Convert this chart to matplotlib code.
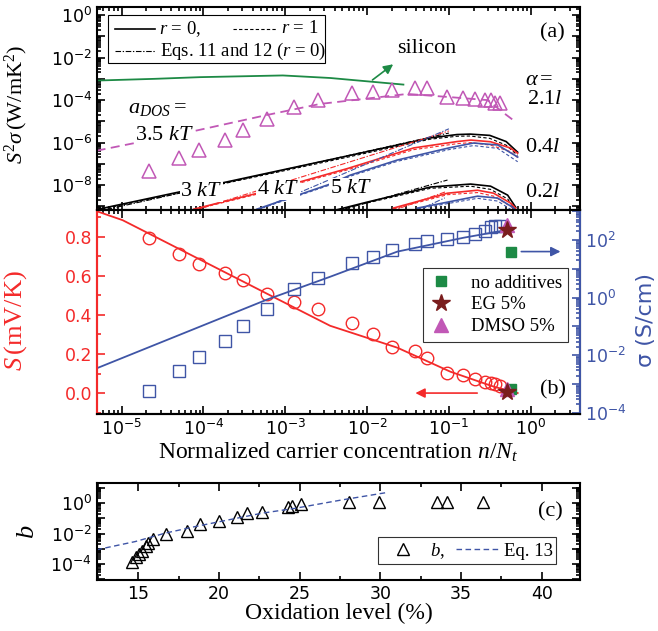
import numpy as np
import matplotlib
matplotlib.use('Agg')
import matplotlib.pyplot as plt
from matplotlib.ticker import LogLocator, FuncFormatter, MultipleLocator, NullFormatter
from matplotlib.lines import Line2D
from matplotlib.patches import Rectangle

plt.rcParams['font.family'] = 'DejaVu Sans'
plt.rcParams['mathtext.fontset'] = 'custom'
plt.rcParams['mathtext.rm'] = 'Liberation Serif'
plt.rcParams['mathtext.it'] = 'Liberation Serif:italic'
plt.rcParams['mathtext.bf'] = 'Liberation Serif:bold'

SERIF = 'Liberation Serif'
RED = '#f42a2a'
BLUE = '#3f55a6'
GREEN = '#1d8a45'
MAGENTA = '#c158b6'
DARKRED = '#7a1d1d'

# ---- measured points, shared x (normalized carrier concentration n/Nt)
n_exp = [2.14e-5, 5.0e-5, 8.8e-5, 1.83e-4, 3.04e-4, 5.98e-4, 1.28e-3, 2.52e-3,
         6.6e-3, 1.19e-2, 2.04e-2, 3.9e-2, 5.47e-2, 9.6e-2, 0.147, 0.206,
         0.273, 0.324, 0.362, 0.417]
S_exp = [0.795, 0.711, 0.66, 0.614, 0.578, 0.507, 0.466, 0.43, 0.359, 0.303,
         0.236, 0.216, 0.180, 0.103, 0.093, 0.073, 0.058, 0.053, 0.048, 0.037]
sigma_exp_log = [-3.24, -2.55, -2.07, -1.52, -1.0, -0.38, 0.31, 0.69, 1.21, 1.41,
                 1.66, 1.86, 1.97, 2.03, 2.10, 2.21, 2.31, 2.45, 2.48, 2.48]
pf_exp_log = [-7.34, -6.73, -6.35, -5.88, -5.41, -4.89, -4.32, -4.0, -3.67, -3.62,
              -3.53, -3.44, -3.44, -3.85, -3.89, -3.94, -3.99, -3.99, -4.13, -4.13]

# ---- (a) model curves, log10 values
si_x = [-5.306, -4.6, -4.04, -3.03, -2.45, -1.556]
si_y = [-3.08, -3.0, -2.92, -2.84, -2.96, -3.27]
fit35_x = [-5.306, -4.166, -3.223, -2.574, -1.508, -1.017, -0.527, -0.331, -0.221]
fit35_y = [-6.38, -5.5, -4.7, -4.18, -3.71, -3.85, -4.0, -4.6, -4.92]

# alpha = 0.4 l
a04_3_x = [-5.306, -4.33, -3.8, -2.28, -1.23, -0.9, -0.74, -0.5, -0.3, -0.16]
a04_3_r0 = [-9.15, -8.35, -7.92, -6.66, -5.78, -5.62, -5.6, -5.66, -5.95, -6.45]
a04_3_r1 = [-9.18, -8.4, -7.97, -6.72, -5.84, -5.7, -5.69, -5.8, -6.12, -6.6]
a04_3_eq = ([-5.306, -1.0], [-9.25, -5.55])
a04_4_x = [-4.118, -3.38, -2.85, -2.24, -1.43, -0.9, -0.73, -0.49, -0.25, -0.16]
a04_4_r0 = [-9.13, -8.42, -7.88, -7.22, -6.25, -5.95, -5.88, -5.96, -6.25, -6.5]
a04_4_r1 = [-9.16, -8.46, -7.93, -7.28, -6.33, -6.05, -6.0, -6.12, -6.42, -6.7]
a04_4_eq = ([-4.118, -1.0], [-9.2, -5.45])
a04_5_x = [-3.346, -2.451, -2.206, -1.63, -1.0, -0.7, -0.404, -0.159]
a04_5_r0 = [-9.13, -7.95, -7.53, -6.82, -6.25, -6.02, -6.11, -6.68]
a04_5_r1 = [-9.16, -7.99, -7.58, -6.88, -6.33, -6.14, -6.27, -6.9]
a04_5_eq = ([-3.346, -1.0], [-9.2, -5.35])

# alpha = 0.2 l
a02_3_x = [-2.39, -2.0, -1.225, -0.735, -0.49, -0.282, -0.184]
a02_3_r0 = [-9.18, -8.8, -8.09, -7.95, -8.05, -8.47, -9.04]
a02_3_r1 = [-9.2, -8.84, -8.15, -8.05, -8.2, -8.65, -9.2]
a02_3_eq = ([-2.39, -1.017], [-9.25, -7.76])
a02_4_x = [-1.679, -1.017, -0.65, -0.453, -0.245, -0.184]
a02_4_r0 = [-9.08, -8.38, -8.24, -8.38, -8.85, -9.08]
a02_4_r1 = [-9.12, -8.45, -8.35, -8.52, -9.0, -9.2]
a02_4_eq = ([-1.7, -1.03], [-9.22, -8.3])
a02_5_x = [-1.385, -0.65, -0.404, -0.221, -0.18]
a02_5_r0 = [-9.08, -8.52, -8.61, -9.04, -9.2]
a02_5_r1 = [-9.12, -8.62, -8.75, -9.2, -9.3]
a02_5_eq = ([-1.4, -1.05], [-9.22, -8.6])

# ---- (b) model curves
S_fit_x = [-5.306, -4.988, -4.044, -3.223, -2.451, -1.63, -0.98, -0.453, -0.159]
S_fit = [0.93, 0.884, 0.683, 0.508, 0.344, 0.232, 0.109, 0.033, 0.0]
sig_fit_x = [-5.306, -3.223, -2.451, -1.63, -0.821, -0.208]
sig_fit = [-2.45, -0.07, 0.72, 1.59, 2.07, 2.38]

# ---- (b) additive samples: no additives, EG 5%, DMSO 5%
add_names = ['no additives', 'EG 5%', 'DMSO 5%']
add_n = [0.58, 0.52, 0.52]
add_S = [0.02, 0.003, 0.02]
add_sigma = [39, 220, 330]

# ---- (c) b vs oxidation level
ox = [14.63, 14.84, 15.04, 15.25, 15.46, 15.62, 15.93, 16.7, 18.0, 18.82, 20.02,
      21.13, 21.75, 22.65, 24.26, 24.54, 25.06, 28.05, 29.93, 33.53, 34.15, 36.34]
b_log = [-3.84, -3.55, -3.33, -3.12, -2.85, -2.64, -2.37, -2.03, -1.81, -1.37, -1.16,
         -0.94, -0.67, -0.57, -0.28, -0.2, -0.07, 0.08, 0.08, 0.08, 0.08, 0.08]
eq13_x = [12.4, 14.8, 16.65, 18.5, 20.57, 22.65, 24.7, 27.6, 30.3]
eq13_log = [-3.07, -2.53, -1.98, -1.55, -1.11, -0.67, -0.35, 0.2, 0.67]


def lg(v):
    return 10.0 ** np.asarray(v, dtype=float)


def even_dec(v, pos):
    e = int(round(np.log10(v)))
    return r'$\mathdefault{10^{%d}}$' % e if e % 2 == 0 else ''


def style_log_y(ax):
    ax.yaxis.set_major_locator(LogLocator(base=10, numticks=30))
    ax.yaxis.set_minor_locator(LogLocator(base=10, subs=np.arange(2, 10), numticks=30))
    ax.yaxis.set_major_formatter(FuncFormatter(even_dec))
    ax.yaxis.set_minor_formatter(NullFormatter())


fig = plt.figure(figsize=(6.58, 6.31), dpi=100)
ax_a = fig.add_axes([0.1474, 0.6672, 0.734, 0.3217])
ax_b = fig.add_axes([0.1474, 0.3439, 0.734, 0.3233])
ax_c = fig.add_axes([0.147, 0.0808, 0.7345, 0.1537])

for ax in (ax_a, ax_b, ax_c):
    for sp in ax.spines.values():
        sp.set_linewidth(1.5)
    ax.tick_params(which='both', direction='in', top=True, right=True, labelsize=12.5, width=1.2)
    ax.tick_params(which='major', length=6)
    ax.tick_params(which='minor', length=3)

# ================= (a)
ax_a.set_xscale('log')
ax_a.set_yscale('log')
ax_a.set_xlim(5e-6, 4)
ax_a.set_ylim(lg(-9.17), lg(0.38))
style_log_y(ax_a)
ax_a.xaxis.set_minor_locator(LogLocator(base=10, subs=np.arange(2, 10), numticks=30))
ax_a.tick_params(labelbottom=False)

ax_a.plot(lg(si_x), lg(si_y), color=GREEN, lw=1.3)
ax_a.annotate('', xy=(lg(-1.654), lg(-2.236)), xytext=(lg(-1.961), lg(-3.13)),
              arrowprops=dict(arrowstyle='-|>', color=GREEN, lw=1.2, mutation_scale=14))
ax_a.plot(lg(fit35_x), lg(fit35_y), color=MAGENTA, lw=1.3, dashes=(5, 3))
ax_a.plot(n_exp, lg(pf_exp_log), '^', mfc='none', mec=MAGENTA, ms=10, mew=1.1)

families = [
    (a04_3_x, a04_3_r0, a04_3_r1, a04_3_eq, 'k'),
    (a04_4_x, a04_4_r0, a04_4_r1, a04_4_eq, RED),
    (a04_5_x, a04_5_r0, a04_5_r1, a04_5_eq, BLUE),
    (a02_3_x, a02_3_r0, a02_3_r1, a02_3_eq, 'k'),
    (a02_4_x, a02_4_r0, a02_4_r1, a02_4_eq, RED),
    (a02_5_x, a02_5_r0, a02_5_r1, a02_5_eq, BLUE),
]
for xs, r0, r1, eq, col in families:
    ax_a.plot(lg(eq[0]), lg(eq[1]), color=col, lw=0.8, dashes=(5, 1.5, 1.2, 1.5))
    ax_a.plot(lg(xs), lg(r1), color=col, lw=0.8, dashes=(3, 2))
    ax_a.plot(lg(xs), lg(r0), color=col, lw=1.2)

wb = dict(facecolor='white', edgecolor='none', pad=0.3)
ax_a.text(0.064, 0.502, r'$a_{DOS}=$', transform=ax_a.transAxes, fontsize=16,
          va='center', family=SERIF)
ax_a.text(0.079, 0.369, r'3.5 $kT$', transform=ax_a.transAxes, fontsize=16,
          va='center', family=SERIF, bbox=wb)
ax_a.text(0.172, 0.089, r'3 $kT$', transform=ax_a.transAxes, fontsize=16,
          va='center', family=SERIF, bbox=wb)
ax_a.text(0.331, 0.099, r'4 $kT$', transform=ax_a.transAxes, fontsize=16,
          va='center', family=SERIF, bbox=wb)
ax_a.text(0.482, 0.108, r'5 $kT$', transform=ax_a.transAxes, fontsize=16,
          va='center', family=SERIF, bbox=wb)
ax_a.text(0.886, 0.640, r'$\alpha=$', transform=ax_a.transAxes, fontsize=16, va='center', family=SERIF)
ax_a.text(0.890, 0.542, r'2.1$l$', transform=ax_a.transAxes, fontsize=16, va='center', family=SERIF)
ax_a.text(0.886, 0.310, r'0.4$l$', transform=ax_a.transAxes, fontsize=16, va='center', family=SERIF)
ax_a.text(0.886, 0.084, r'0.2$l$', transform=ax_a.transAxes, fontsize=16, va='center', family=SERIF)
ax_a.text(0.917, 0.872, '(a)', transform=ax_a.transAxes, fontsize=16, va='center', family=SERIF)
ax_a.text(0.621, 0.798, 'silicon', transform=ax_a.transAxes, fontsize=16, va='center', family=SERIF)

# hand-built legend of (a)
T = ax_a.transAxes
ax_a.add_patch(Rectangle((0.0228, 0.724), 0.449, 0.237, transform=T, fill=False,
                         edgecolor='k', lw=0.8, zorder=5))
ax_a.add_line(Line2D([0.037, 0.120], [0.892, 0.892], transform=T, color='k', lw=1.2))
ax_a.text(0.128, 0.892, r'$r$ = 0,', transform=T, fontsize=13.5, va='center', family=SERIF)
ax_a.add_line(Line2D([0.282, 0.373], [0.892, 0.892], transform=T, color='k', lw=0.8, dashes=(3, 2)))
ax_a.text(0.381, 0.892, r'$r$ = 1', transform=T, fontsize=13.5, va='center', family=SERIF)
ax_a.add_line(Line2D([0.037, 0.120], [0.783, 0.783], transform=T, color='k', lw=0.8,
                     dashes=(5, 1.5, 1.2, 1.5)))
ax_a.text(0.131, 0.783, r'Eqs. 11 and 12 ($r$ = 0)', transform=T, fontsize=13.5, va='center', family=SERIF)

ax_a.set_ylabel(r'$S^2\sigma\,(\mathrm{W/mK^2})$', fontsize=16)
ax_a.yaxis.set_label_coords(-0.138, 0.52)

# ================= (b)
ax_b.set_xscale('log')
ax_b.set_xlim(5e-6, 4)
ax_b.set_ylim(-0.107, 0.936)
ax_b.yaxis.set_major_locator(MultipleLocator(0.2))
ax_b.yaxis.set_minor_locator(MultipleLocator(0.1))
ax_b.yaxis.set_major_formatter(FuncFormatter(lambda v, p: '%.1f' % v))
ax_b.xaxis.set_major_locator(LogLocator(base=10, numticks=30))
ax_b.xaxis.set_minor_locator(LogLocator(base=10, subs=np.arange(2, 10), numticks=30))
ax_b.tick_params(axis='y', which='both', colors=RED, right=False)
ax_b.spines['left'].set_color(RED)

ax_b.plot(lg(S_fit_x), S_fit, color=RED, lw=1.3)
ax_b.plot(n_exp, S_exp, 'o', mfc='none', mec=RED, ms=9, mew=1.0)
ax_b.plot(add_n[0], add_S[0], 's', color=GREEN, ms=7)
ax_b.plot(add_n[2], add_S[2], '^', color=MAGENTA, ms=10)
ax_b.plot(add_n[1], add_S[1], '*', color=DARKRED, ms=13)
ax_b.annotate('', xy=(0.036, 0.0), xytext=(0.24, 0.0),
              arrowprops=dict(arrowstyle='-|>', color=RED, lw=1.2, mutation_scale=14))
ax_b.set_ylabel(r'$S\,(\mathrm{mV/K})$', fontsize=19, color=RED)
ax_b.yaxis.set_label_coords(-0.14, 0.46)
ax_b.set_xlabel(r'Normalized carrier concentration $n/N_t$', fontsize=17, family=SERIF, labelpad=1)

ax_s = ax_b.twinx()
ax_s.set_yscale('log')
ax_s.set_ylim(lg(-4.03), lg(3.03))
style_log_y(ax_s)
ax_s.tick_params(which='both', direction='in', colors=BLUE, labelsize=12.5, width=1.2)
ax_s.tick_params(which='major', length=6)
ax_s.tick_params(which='minor', length=3)
for sp in ax_s.spines.values():
    sp.set_linewidth(1.5)
ax_s.spines['right'].set_color(BLUE)
ax_s.spines['left'].set_color(RED)

ax_s.plot(lg(sig_fit_x), lg(sig_fit), color=BLUE, lw=1.3)
ax_s.plot(n_exp, lg(sigma_exp_log), 's', mfc='none', mec=BLUE, ms=9, mew=1.0)
h0, = ax_s.plot(add_n[0], add_sigma[0], 's', color=GREEN, ms=7, linestyle='none')
h2, = ax_s.plot(add_n[2], add_sigma[2], '^', color=MAGENTA, ms=10, linestyle='none')
h1, = ax_s.plot(add_n[1], add_sigma[1], '*', color=DARKRED, ms=13, linestyle='none')
ax_s.annotate('', xy=(2.5, add_sigma[0]), xytext=(0.71, add_sigma[0]),
              arrowprops=dict(arrowstyle='-|>', color=BLUE, lw=1.2, mutation_scale=14))
leg = ax_s.legend([h0, h1, h2], add_names, loc='upper left', bbox_to_anchor=(0.675, 0.716),
                  borderaxespad=0, frameon=True, fancybox=False, edgecolor='k',
                  prop={'family': SERIF, 'size': 13.5}, handlelength=1.2, handletextpad=1.0,
                  labelspacing=0.25, borderpad=0.35)
leg.get_frame().set_linewidth(0.8)
ax_s.text(0.917, 0.118, '(b)', transform=ax_s.transAxes, fontsize=16, va='center', family=SERIF)
ax_s.set_ylabel('σ (S/cm)', fontsize=16, color=BLUE)
ax_s.yaxis.set_label_coords(1.115, 0.46)

# ================= (c)
ax_c.set_yscale('log')
ax_c.set_xlim(12.42, 42.37)
ax_c.set_ylim(lg(-5.05), lg(1.31))
style_log_y(ax_c)
ax_c.xaxis.set_major_locator(MultipleLocator(5))
ax_c.xaxis.set_minor_locator(MultipleLocator(2.5))
ax_c.plot(ox, lg(b_log), '^', mfc='none', mec='k', ms=9, mew=1.0, label=r'$b$,')
ax_c.plot(eq13_x, lg(eq13_log), color=BLUE, lw=1.0, dashes=(4, 2.5), label='Eq. 13')
leg_c = ax_c.legend(loc='upper left', bbox_to_anchor=(0.582, 0.443), borderaxespad=0, ncol=2,
                    frameon=True, fancybox=False, edgecolor='k', prop={'family': SERIF, 'size': 13.5},
                    handlelength=2.3, handletextpad=0.25, columnspacing=0.6, borderpad=0.2)
leg_c.get_frame().set_linewidth(0.8)
ax_c.text(0.913, 0.70, '(c)', transform=ax_c.transAxes, fontsize=16, va='center', family=SERIF)
ax_c.set_ylabel(r'$b$', fontsize=19)
ax_c.yaxis.set_label_coords(-0.117, 0.5)
ax_c.set_xlabel('Oxidation level (%)', fontsize=17, family=SERIF, labelpad=0)

fig.savefig('out.png', dpi=100)
